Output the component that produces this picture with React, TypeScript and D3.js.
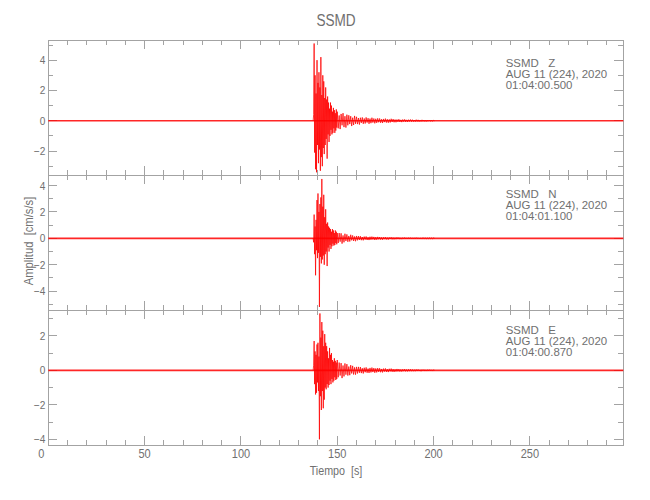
import React from 'react';
import * as d3 from 'd3';

// ---- data ----
const STATION = 'SSMD';
const CHANNELS = ['Z', 'N', 'E'];
const DATE_LABEL = 'AUG 11 (224), 2020';
const START_TIMES = ['01:04:00.500', '01:04:01.100', '01:04:00.870'];
const X_DOMAIN = [0, 298.5];
const X_MAJOR = [0, 50, 100, 150, 200, 250];
const X_MINOR_STEP = 10;
const Y_DOMAINS = [[-3.58, 5.33], [-5.43, 4.8], [-4.33, 3.5]];
const Y_TICKS = [[-2, 0, 2, 4], [-4, -2, 0, 2, 4], [-4, -2, 0, 2]];

// successive peak amplitudes (cm/s/s)
const STRONG_T0 = 137.75;
const STRONG_DT = 0.25;
const CODA_T0 = 150.5;
const CODA_DT = 0.5;

const Z_STRONG = [0.4, 5.1, -2.1, 3.0, -3.2, 1.8, -3.4, 4.0, -1.6, 2.5, -2.8, 3.2, -1.9, 2.2, -3.3, 4.2, -2.4, 1.7, -3.0, 3.0, -1.8, 2.6, -2.2, 1.5, -1.6, 2.2, -1.2, 1.4, -2.5, 1.6, -0.9, 1.2, -1.4, 0.8, -1.0, 1.2, -0.6, 1.0, -0.9, 0.6, -0.8, 0.85, -0.5, 0.7, -0.8, 0.5, -0.65, 0.75, -0.45, 0.6];
const Z_CODA = [
  -0.5, 0.35, -0.55, 0.45, -0.3, 0.5, -0.42, 0.3, -0.45, 0.4,
  -0.3, 0.36, -0.22, 0.3, -0.35, 0.2, -0.28, 0.32, -0.2, 0.26,
  -0.22, 0.18, -0.25, 0.2, -0.14, 0.22, -0.2, 0.15, -0.18, 0.22, -0.12, 0.17, -0.2, 0.14, -0.16, 0.2, -0.12, 0.15, -0.17, 0.13,
  -0.14, 0.16, -0.1, 0.15, -0.13, 0.1, -0.15, 0.12, -0.09, 0.14, -0.12, 0.1, -0.13, 0.09, -0.11, 0.13, -0.08, 0.11, -0.1, 0.08,
  -0.1, 0.08, -0.07, 0.1, -0.08, 0.06, -0.09, 0.08, -0.06, 0.09, -0.07, 0.06, -0.08, 0.07, -0.05, 0.08, -0.06, 0.07, -0.06, 0.05,
  -0.06, 0.07, -0.05, 0.06, -0.06, 0.04, -0.05, 0.06, -0.04, 0.05, -0.05, 0.04, -0.05, 0.04, -0.03, 0.05, -0.04, 0.04, -0.04, 0.03,
];

const N_STRONG = [-0.3, 1.8, -1.2, 0.9, -2.8, 1.4, -0.9, 2.9, -1.5, 3.4, -1.1, 2.0, -5.2, 2.6, -1.4, 3.1, -1.9, 4.5, -1.6, 2.4, -1.3, 3.3, -2.0, 1.6, -1.2, 2.2, -1.0, 1.1, -2.1, 1.2, -0.7, 0.9, -1.0, 0.8, -0.5, 0.7, -0.8, 0.5, -0.6, 0.7, -0.4, 0.6, -0.55, 0.4, -0.5, 0.6, -0.35, 0.5, -0.45, 0.4];
const N_CODA = [
  -0.35, 0.4, -0.25, 0.38, -0.4, 0.22, -0.3, 0.35, -0.2, 0.3,
  -0.26, 0.18, -0.24, 0.27, -0.15, 0.22, -0.2, 0.14, -0.22, 0.18,
  -0.15, 0.17, -0.12, 0.16, -0.14, 0.1, -0.15, 0.13, -0.09, 0.14, -0.12, 0.08, -0.13, 0.12, -0.1, 0.13, -0.08, 0.11, -0.12, 0.09,
  -0.1, 0.11, -0.07, 0.1, -0.09, 0.07, -0.1, 0.08, -0.06, 0.09, -0.08, 0.06, -0.09, 0.07, -0.05, 0.08, -0.07, 0.06, -0.07, 0.05,
  -0.06, 0.07, -0.05, 0.06, -0.06, 0.04, -0.06, 0.05, -0.04, 0.06, -0.05, 0.04, -0.05, 0.05, -0.04, 0.05, -0.04, 0.04, -0.05, 0.04,
  -0.04, 0.05, -0.03, 0.04, -0.04, 0.03, -0.04, 0.04, -0.03, 0.04, -0.03, 0.03, -0.04, 0.03, -0.03, 0.04, -0.03, 0.03, -0.03, 0.03,
];

const E_STRONG = [0.3, 1.7, -0.8, 1.1, -1.4, 0.9, -1.3, 1.5, -0.7, 1.6, -1.2, 0.8, -4.0, 3.3, -1.5, 1.9, -2.3, 2.8, -1.2, 2.3, -2.2, 1.4, -1.7, 2.1, -1.0, 1.6, -1.1, 1.4, -0.8, 1.1, -1.0, 0.7, -0.85, 1.3, -0.6, 0.9, -0.8, 1.0, -0.5, 0.6, -0.7, 0.5, -0.6, 0.7, -0.4, 0.55, -0.56, 0.45, -0.5, 0.6];
const E_CODA = [
  -0.4, 0.45, -0.3, 0.42, -0.45, 0.28, -0.35, 0.4, -0.25, 0.36,
  -0.3, 0.22, -0.28, 0.3, -0.18, 0.26, -0.24, 0.17, -0.25, 0.2,
  -0.18, 0.2, -0.14, 0.19, -0.16, 0.12, -0.18, 0.15, -0.11, 0.17, -0.14, 0.1, -0.15, 0.14, -0.12, 0.16, -0.1, 0.13, -0.14, 0.11,
  -0.12, 0.13, -0.09, 0.12, -0.11, 0.08, -0.12, 0.1, -0.07, 0.11, -0.09, 0.07, -0.1, 0.09, -0.06, 0.1, -0.08, 0.07, -0.09, 0.06,
  -0.07, 0.08, -0.06, 0.07, -0.07, 0.05, -0.07, 0.06, -0.05, 0.07, -0.06, 0.05, -0.06, 0.06, -0.05, 0.06, -0.05, 0.05, -0.05, 0.04,
  -0.05, 0.05, -0.04, 0.05, -0.04, 0.03, -0.05, 0.04, -0.03, 0.04, -0.04, 0.03, -0.04, 0.04, -0.03, 0.04, -0.03, 0.03, -0.04, 0.03,
];

const STRONG = [Z_STRONG, N_STRONG, E_STRONG];
const CODA = [Z_CODA, N_CODA, E_CODA];

// ---- layout ----
const W = 650;
const H = 500;
const LEFT = 48.3;
const RIGHT = 623.3;
const PANEL_TOP = 40;
const PANEL_H = 135;
const TEXT_X = 505.7;
const TEXT_OFFSETS = [[26.5, 37.7, 48.9], [23, 34.2, 45.4], [23.5, 34.7, 45.9]];
const FONT = "'Liberation Sans', Arial, sans-serif";
const TEXT_COLOR = '#707070';
const AXIS_COLOR = '#a3a3a3';
const TRACE_COLOR = '#ff0000';

const fmt = d3.format('d');
const NB = '\u00a0';

function T({ x, y, size, anchor = 'start', sx = 1, rotate = 0, dy, children }: any) {
  return (
    <text
      transform={`translate(${x},${y}) rotate(${rotate}) scale(${sx},1)`}
      textAnchor={anchor}
      dy={dy}
      fontSize={size}
      fill={TEXT_COLOR}
      fontFamily={FONT}
    >
      {children}
    </text>
  );
}

function Panel({ i }: { i: number }) {
  const top = PANEL_TOP + i * PANEL_H;
  const bottom = top + PANEL_H;
  const x = d3.scaleLinear().domain(X_DOMAIN).range([LEFT, RIGHT]);
  const [y0, y1] = Y_DOMAINS[i];
  const y = d3.scaleLinear().domain([y0, y1]).range([bottom, top]);
  const minorX = d3.range(0, X_DOMAIN[1], X_MINOR_STEP);
  const minorY = d3.range(Math.ceil(y0), Math.floor(y1) + 1);

  const pts: [number, number][] = [];
  pts.push([STRONG_T0 - STRONG_DT, 0]);
  STRONG[i].forEach((v, k) => pts.push([STRONG_T0 + k * STRONG_DT, v]));
  CODA[i].forEach((v, k) => pts.push([CODA_T0 + k * CODA_DT, v]));
  pts.push([CODA_T0 + CODA[i].length * CODA_DT, 0]);

  const line = d3.line<[number, number]>().x((d) => x(d[0])).y((d) => y(d[1]));
  const base: [number, number][] = [[X_DOMAIN[0], 0], [X_DOMAIN[1], 0]];

  return (
    <g>
      <g stroke={AXIS_COLOR} strokeWidth={1} shapeRendering="crispEdges">
        <rect x={LEFT} y={top} width={RIGHT - LEFT} height={PANEL_H} fill="none" />
        {minorX.map((t) => {
          const len = X_MAJOR.includes(t) ? 9 : 5;
          return (
            <g key={'x' + t}>
              <line x1={x(t)} x2={x(t)} y1={top} y2={top + len} />
              <line x1={x(t)} x2={x(t)} y1={bottom} y2={bottom - len} />
            </g>
          );
        })}
        {minorY.map((v) => {
          const len = v % 2 === 0 ? 9 : 5;
          return (
            <g key={'y' + v}>
              <line x1={LEFT} x2={LEFT + len} y1={y(v)} y2={y(v)} />
              <line x1={RIGHT} x2={RIGHT - len} y1={y(v)} y2={y(v)} />
            </g>
          );
        })}
      </g>
      <path d={line(base) || ''} stroke={TRACE_COLOR} strokeWidth={1.6} fill="none" opacity={0.85} />
      <path d={line(pts) || ''} stroke={TRACE_COLOR} strokeWidth={0.9} fill="none" opacity={0.85} />
      {Y_TICKS[i].map((v) => (
        <T key={'yl' + v} x={LEFT - 3} y={y(v)} dy="0.35em" anchor="end" size={11.5} sx={0.88}>
          {v < 0 ? '\u2212' + fmt(-v) : fmt(v)}
        </T>
      ))}
      <T x={TEXT_X} y={top + TEXT_OFFSETS[i][0]} size={11} sx={1.04}>{STATION + NB + NB + NB + CHANNELS[i]}</T>
      <T x={TEXT_X} y={top + TEXT_OFFSETS[i][1]} size={11} sx={1.04}>{DATE_LABEL}</T>
      <T x={TEXT_X} y={top + TEXT_OFFSETS[i][2]} size={11} sx={1.04}>{START_TIMES[i]}</T>
    </g>
  );
}

export default function App() {
  const x = d3.scaleLinear().domain(X_DOMAIN).range([LEFT, RIGHT]);
  const bottom = PANEL_TOP + PANEL_H * CHANNELS.length;
  return (
    <svg width={W} height={H} style={{ position: 'absolute', left: 0, top: 0, background: '#fff' }}>
      <rect width={W} height={H} fill="#fff" />
      <T x={336} y={20} dy="0.35em" anchor="middle" size={17} sx={0.8}>{STATION}</T>
      {CHANNELS.map((c, i) => (
        <Panel key={c} i={i} />
      ))}
      {X_MAJOR.map((t) => (
        <T key={'xl' + t} x={x(t) + (t === 0 ? -7 : 0)} y={bottom + 9} dy="0.35em" anchor="middle" size={12.5} sx={0.88}>
          {fmt(t)}
        </T>
      ))}
      <T x={336} y={475} anchor="middle" size={12.5} sx={0.86}>{'Tiempo' + NB + NB + '[s]'}</T>
      <T x={33} y={241} anchor="middle" size={12.5} sx={0.9} rotate={-90}>{'Amplitud' + NB + NB + '[cm/s/s]'}</T>
    </svg>
  );
}
